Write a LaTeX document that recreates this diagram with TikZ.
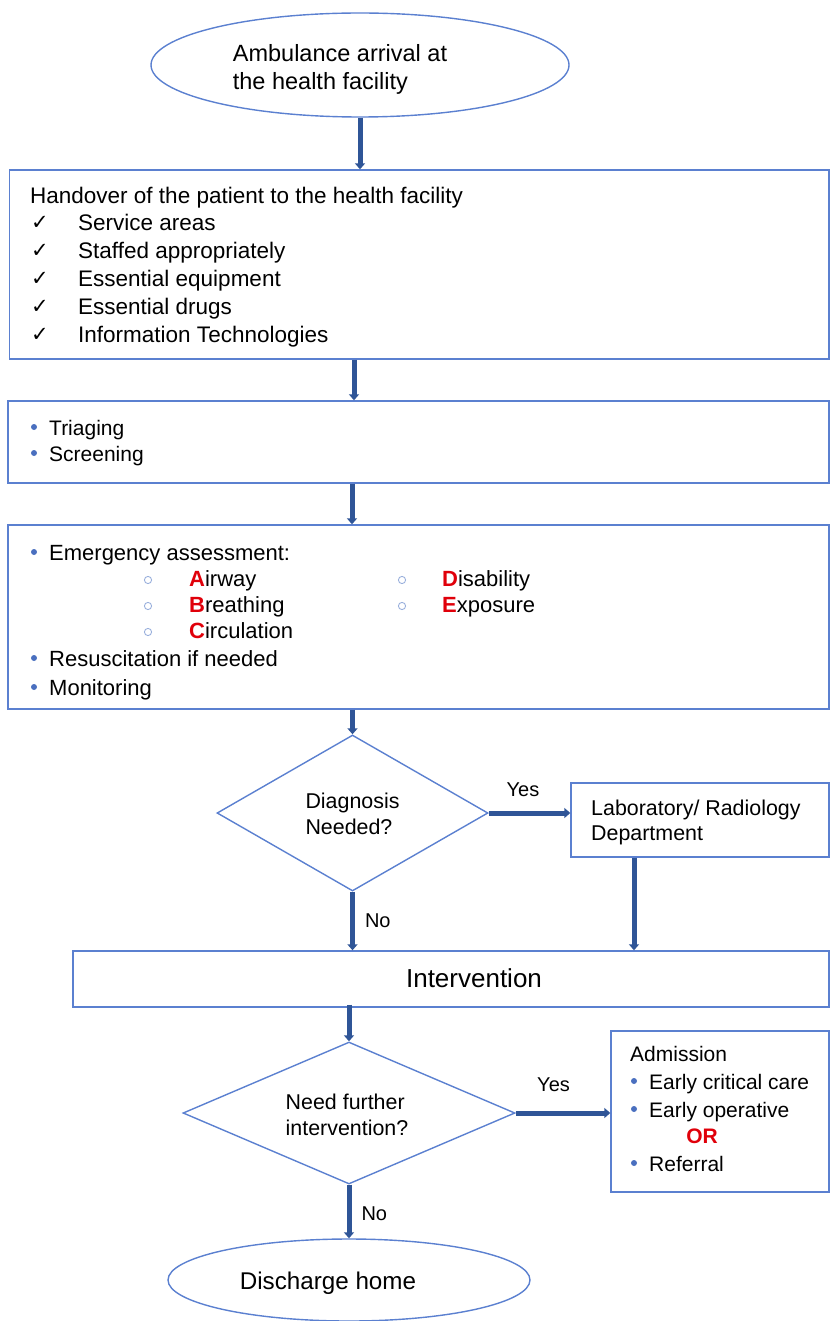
\documentclass[tikz,border=0pt]{standalone}
\usepackage{fontspec}
\setmainfont{Liberation Sans}
\newfontfamily\dejavu{DejaVu Sans}
\usetikzlibrary{shapes.geometric,arrows.meta}
\definecolor{boxblue}{HTML}{5B80D0}
\definecolor{arrblue}{HTML}{2F5597}
\definecolor{bulblue}{HTML}{4A6FBF}
\definecolor{circblue}{HTML}{9AB0DC}
\definecolor{redA}{HTML}{E0000A}
\begin{document}
\begin{tikzpicture}[x=1pt,y=-1pt,
  box/.style={draw=boxblue,line width=1.4pt,rectangle,inner sep=0pt},
  ell/.style={draw=boxblue,line width=1.4pt,ellipse,inner sep=0pt},
  dia/.style={draw=boxblue,line width=1.4pt,diamond,inner sep=0pt},
  arr/.style={draw=arrblue,line width=5pt,-{Triangle[length=6pt,width=10pt]}},
  txt/.style={anchor=mid west,inner sep=0pt,yshift=-6pt,font=\fontsize{22}{26}\selectfont},
  ctxt/.style={inner sep=0pt,align=left,font=\fontsize{21.4}{26}\selectfont},
  lbl/.style={inner sep=0pt,font=\fontsize{20}{24}\selectfont},
  bul/.style={fill=bulblue},
  hcirc/.style={draw=circblue,line width=0.9pt},
  chk/.style={anchor=mid west,inner sep=0pt,yshift=-5pt,font=\dejavu\fontsize{21}{24}\selectfont}
]
\useasboundingbox (0,0) rectangle (830,1321);

% shapes
\node[ell,minimum width=418pt,minimum height=104pt] (e1) at (360,65) {};
\node[box,minimum width=819.5pt,minimum height=189pt] (b1) at (419.25,264.5) {};
\node[box,minimum width=821pt,minimum height=82pt] (b2) at (418.5,442) {};
\node[box,minimum width=821pt,minimum height=184pt] (b3) at (418.5,617) {};
\node[dia,minimum width=271pt,minimum height=156pt] (d1) at (352.5,813) {};
\node[box,minimum width=258pt,minimum height=74pt] (lab) at (700,820) {};
\node[box,minimum width=756pt,minimum height=56pt] (iv) at (451,979) {};
\node[dia,minimum width=332pt,minimum height=142pt] (d2) at (349,1113) {};
\node[box,minimum width=218pt,minimum height=161pt] (adm) at (720,1111.5) {};
\node[ell,minimum width=362pt,minimum height=82pt] (e2) at (349,1280) {};

% texts
\node[ctxt,font=\fontsize{23.5}{28}\selectfont] (t1) at (340,69) {Ambulance arrival at\\the health facility};

\node[txt,font=\fontsize{22.5}{26}\selectfont] (h0) at (30,195) {Handover of the patient to the health facility};
\node[chk] (c1) at (31,222) {✓};
\node[chk] (c2) at (31,250) {✓};
\node[chk] (c3) at (31,278) {✓};
\node[chk] (c4) at (31,306) {✓};
\node[chk] (c5) at (31,334) {✓};
\node[txt,font=\fontsize{22.5}{26}\selectfont] (h1) at (78,222) {Service areas};
\node[txt,font=\fontsize{22.5}{26}\selectfont] (h2) at (78,250) {Staffed appropriately};
\node[txt,font=\fontsize{22.5}{26}\selectfont] (h3) at (78,278) {Essential equipment};
\node[txt,font=\fontsize{22.5}{26}\selectfont] (h4) at (78,306) {Essential drugs};
\node[txt,font=\fontsize{22.5}{26}\selectfont] (h5) at (78,334) {Information Technologies};

\fill[bul] (34,427) circle (3pt);
\fill[bul] (34,453) circle (3pt);
\node[txt,font=\fontsize{21}{26}\selectfont] (s1) at (49,427) {Triaging};
\node[txt,font=\fontsize{21}{26}\selectfont] (s2) at (49,453) {Screening};

\fill[bul] (34,552) circle (3pt);
\fill[bul] (34,658) circle (3pt);
\fill[bul] (34,687) circle (3pt);
\node[txt] (m1) at (49,552) {Emergency assessment:};
\draw[hcirc] (148,580) circle (3.6pt);
\draw[hcirc] (148,606) circle (3.6pt);
\draw[hcirc] (148,632) circle (3.6pt);
\draw[hcirc] (402,580) circle (3.6pt);
\draw[hcirc] (402,606) circle (3.6pt);
\node[txt] (mA) at (189,578) {\textcolor{redA}{\textbf{A}}irway};
\node[txt] (mB) at (189,604) {\textcolor{redA}{\textbf{B}}reathing};
\node[txt] (mC) at (189,630) {\textcolor{redA}{\textbf{C}}irculation};
\node[txt] (mD) at (442,578) {\textcolor{redA}{\textbf{D}}isability};
\node[txt] (mE) at (442,604) {\textcolor{redA}{\textbf{E}}xposure};
\node[txt] (m2) at (49,658) {Resuscitation if needed};
\node[txt] (m3) at (49,687) {Monitoring};

\node[ctxt] (dt1) at (352.5,814) {Diagnosis\\Needed?};
\node[txt,font=\fontsize{21.4}{26}\selectfont] (l1) at (591,807) {Laboratory/ Radiology};
\node[txt,font=\fontsize{21.4}{26}\selectfont] (l2) at (591,832) {Department};

\node[inner sep=0pt,font=\fontsize{26}{30}\selectfont] (ivt) at (474,978) {Intervention};

\node[ctxt] (dt2) at (347,1115) {Need further\\intervention?};
\node[txt,font=\fontsize{21}{26}\selectfont] (a0) at (630,1053) {Admission};
\fill[bul] (634,1081) circle (3pt);
\fill[bul] (634,1109) circle (3pt);
\fill[bul] (634,1163) circle (3pt);
\node[txt,font=\fontsize{21}{26}\selectfont] (a1) at (649,1081) {Early critical care};
\node[txt,font=\fontsize{21}{26}\selectfont] (a2) at (649,1109) {Early operative};
\node[inner sep=0pt,font=\bfseries\fontsize{21}{26}\selectfont,text=redA] (a3) at (702,1136) {OR};
\node[txt,font=\fontsize{21}{26}\selectfont] (a4) at (649,1163) {Referral};

\node[inner sep=0pt,font=\fontsize{24.2}{28}\selectfont] (e2t) at (328,1283) {Discharge home};

% connectors
\coordinate (x2) at (354,0);
\coordinate (x3) at (352,0);
\coordinate (xl) at (634,0);
\draw[arr] (e1.south) -- (e1.south |- b1.north);
\draw[arr] (x2 |- b1.south) -- (x2 |- b2.north);
\draw[arr] (x3 |- b2.south) -- (x3 |- b3.north);
\draw[arr] (d1.north |- b3.south) -- (d1.north);
\draw[arr] (d1.east) -- (d1.east -| lab.west) node[lbl,pos=0.42,above=14pt] (y1) {Yes};
\draw[arr] (d1.south) -- (d1.south |- iv.north) node[lbl,pos=0.5,right=10pt] (n1) {No};
\draw[arr] (xl |- lab.south) -- (xl |- iv.north);
\draw[arr] ([yshift=3pt]d2.north |- iv.south) -- (d2.north);
\draw[arr] (d2.east) -- (d2.east -| adm.west) node[lbl,pos=0.4,above=19pt] (y2) {Yes};
\draw[arr] (d2.south) -- (d2.south |- e2.north) node[lbl,pos=0.55,right=10pt] (n2) {No};
\end{tikzpicture}
\end{document}
